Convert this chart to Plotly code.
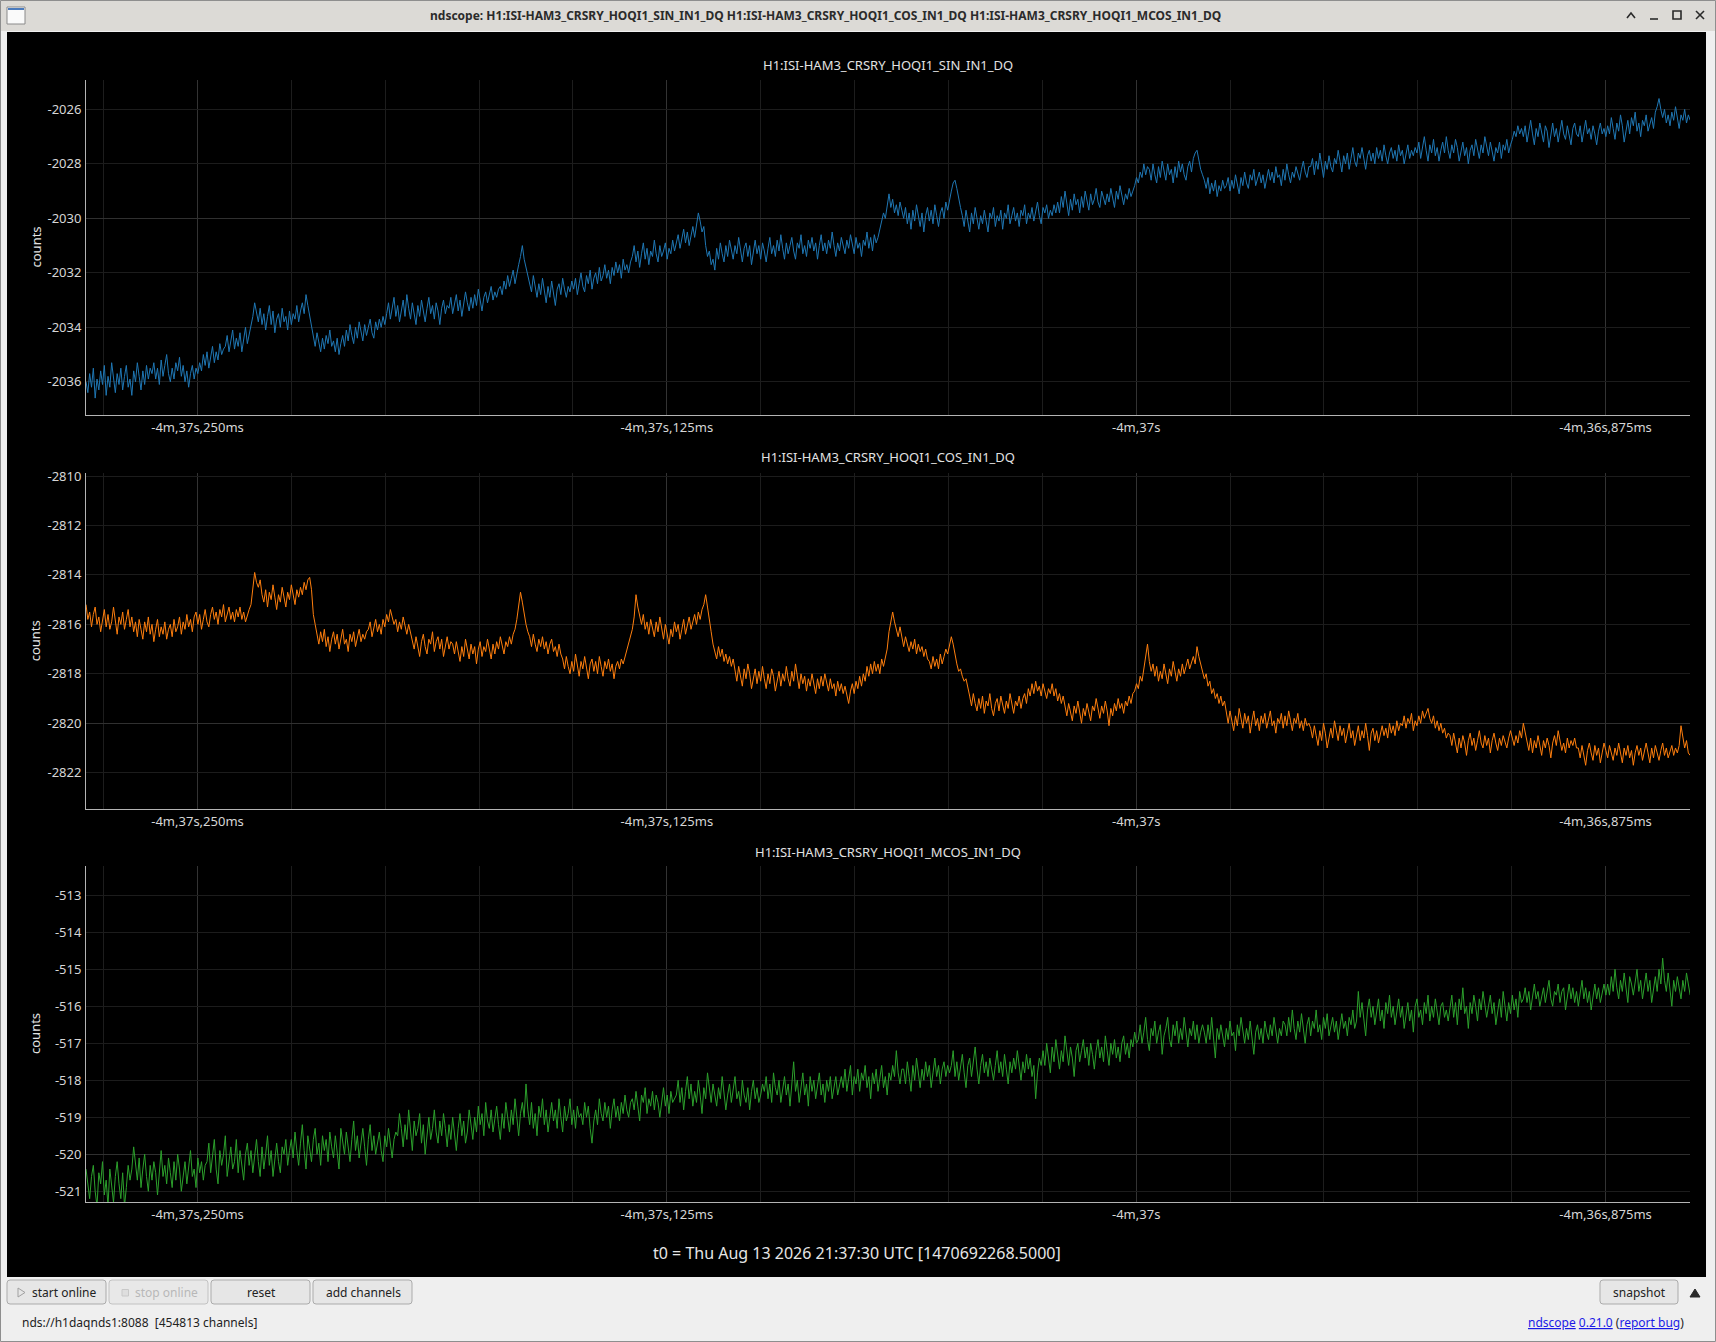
"""ndscope-style view of three HAM3 CRSRY HOQI1 channels, rebuilt with Plotly."""

import numpy as np
import plotly.graph_objects as go

W, H = 1716, 1342
FONT = "Noto Sans"

# time axis, seconds relative to t0
SAMPLE_RATE = 2048.0
T_START = -277.2797
X_RANGE = [-277.2797, -276.8525]
X_TICK_VALS = [-277.25, -277.125, -277.0, -276.875]
X_TICK_TEXT = ["-4m,37s,250ms", "-4m,37s,125ms", "-4m,37s", "-4m,36s,875ms"]

CHANNELS = [
    "H1:ISI-HAM3_CRSRY_HOQI1_SIN_IN1_DQ",
    "H1:ISI-HAM3_CRSRY_HOQI1_COS_IN1_DQ",
    "H1:ISI-HAM3_CRSRY_HOQI1_MCOS_IN1_DQ",
]
COLORS = ["#1f77b4", "#ff7f0e", "#2ca02c"]

SIN_COUNTS = [
    -2036.0, -2036.4, -2035.7, -2036.2, -2035.5, -2036.6, -2035.9, -2036.3, -2035.6, -2036.1,
    -2035.4, -2036.5, -2035.8, -2036.2, -2035.3, -2035.9, -2036.4, -2035.7, -2036.1, -2035.5,
    -2036.3, -2035.8, -2035.4, -2036.2, -2035.9, -2036.5, -2035.6, -2036.0, -2035.3, -2035.8,
    -2036.3, -2035.6, -2036.1, -2035.4, -2035.9, -2035.5,
    -2035.7, -2035.3, -2035.9, -2035.5, -2036.1, -2035.2, -2035.8, -2035.4, -2035.0, -2035.7,
    -2036.0, -2035.5, -2035.9, -2035.3, -2035.6, -2035.1, -2035.8, -2035.4, -2036.0, -2035.6,
    -2036.2, -2035.7, -2035.4, -2035.9, -2035.5, -2035.7,
    -2035.3, -2035.6, -2035.0, -2035.4, -2034.9, -2035.5, -2035.1, -2034.7, -2035.3, -2034.9,
    -2035.2, -2034.6, -2035.0, -2034.8,
    -2034.7, -2034.3, -2034.9, -2034.5, -2034.1, -2034.8, -2034.4, -2034.7, -2034.2, -2034.9,
    -2034.5, -2034.0, -2034.6, -2034.3,
    -2034.0, -2033.6, -2033.1, -2033.4,
    -2033.8, -2033.3, -2033.9, -2033.5, -2034.1, -2033.6, -2033.2, -2033.9, -2033.4, -2034.2,
    -2033.7, -2033.5, -2034.0, -2033.3, -2033.8, -2033.6, -2034.1, -2033.4, -2033.9, -2033.5,
    -2033.7, -2033.2, -2033.8, -2033.4, -2033.1, -2033.5, -2032.8, -2033.2, -2033.6, -2033.9,
    -2034.3, -2034.7, -2034.2, -2034.6, -2034.9, -2034.4, -2034.8, -2034.3, -2034.6, -2034.1,
    -2034.7, -2034.5, -2034.9, -2034.4, -2035.0, -2034.6, -2034.3, -2034.7,
    -2034.1, -2034.5, -2033.9, -2034.3, -2034.6, -2034.0, -2034.4, -2033.8, -2034.2, -2034.5,
    -2033.9, -2034.3, -2034.0, -2033.7, -2034.2, -2034.4, -2033.8, -2034.1, -2033.7, -2034.0,
    -2033.6, -2033.9,
    -2033.5, -2033.1, -2033.7, -2033.3, -2032.9, -2033.6, -2033.2, -2033.8, -2033.4, -2033.0,
    -2033.6, -2032.8, -2033.3, -2033.7, -2033.1, -2033.5, -2033.9, -2033.2, -2033.6, -2033.0,
    -2033.4, -2033.8, -2033.3, -2032.9, -2033.5, -2033.2, -2033.7, -2033.1, -2033.4, -2033.9,
    -2033.3, -2033.0, -2033.5, -2033.2,
    -2033.3, -2032.9, -2033.5, -2033.1, -2032.8, -2033.4, -2033.0, -2033.6, -2033.2, -2032.7,
    -2033.1, -2033.4, -2032.9, -2033.3, -2032.8, -2033.2, -2032.6, -2033.0, -2033.4, -2032.9,
    -2032.7, -2033.1, -2032.8, -2032.5, -2033.0, -2032.7, -2032.9, -2032.6,
    -2032.5, -2032.8, -2032.3, -2032.6, -2032.1, -2032.5, -2032.2, -2031.9, -2032.4, -2032.0,
    -2031.7, -2031.4, -2031.0, -2031.5, -2031.8, -2032.1,
    -2032.3, -2032.7, -2032.1, -2032.5, -2032.9, -2032.4, -2032.8, -2032.2, -2032.6, -2033.1,
    -2032.5, -2032.9, -2032.3, -2032.7, -2033.2, -2032.6, -2032.4, -2032.8, -2032.2, -2032.6,
    -2032.9, -2032.5, -2032.7, -2032.3,
    -2032.6, -2032.2, -2032.8, -2032.4, -2032.0, -2032.5, -2032.7, -2032.1, -2032.4, -2031.9,
    -2032.6, -2032.2, -2032.0, -2032.4, -2031.8, -2032.3, -2032.1, -2031.7, -2032.2, -2031.9,
    -2032.4, -2031.8, -2032.1, -2031.6, -2032.0, -2031.7, -2032.2, -2031.5, -2031.9, -2031.7,
    -2032.0, -2031.6,
    -2031.4, -2031.0, -2031.6, -2031.2, -2031.8, -2031.3, -2030.9, -2031.5, -2031.1, -2031.7,
    -2031.2, -2031.4, -2030.8, -2031.3, -2031.6, -2031.0, -2031.4, -2031.2, -2030.9, -2031.5,
    -2031.1, -2031.3, -2030.8, -2031.2,
    -2030.9, -2030.6, -2031.1, -2030.7, -2030.4, -2030.9, -2030.5, -2031.0, -2030.6, -2030.3,
    -2030.7, -2030.2, -2029.8, -2030.1, -2030.5, -2030.3,
    -2031.0, -2031.4, -2031.2, -2031.7, -2031.5, -2031.9,
    -2031.1, -2031.5, -2030.9, -2031.3, -2031.6, -2031.0, -2031.4, -2030.8, -2031.2, -2031.5,
    -2031.0, -2031.3, -2030.7, -2031.2, -2031.6, -2031.1, -2030.9, -2031.4, -2031.0, -2031.7,
    -2031.2, -2030.8, -2031.3, -2031.0, -2031.5, -2030.9, -2031.2, -2031.6, -2031.1, -2030.7,
    -2031.3, -2031.0, -2031.4, -2030.8, -2031.2, -2030.6, -2031.1, -2031.5, -2030.9, -2031.3,
    -2031.0, -2030.7, -2031.2, -2031.5, -2030.9, -2031.1, -2030.6, -2031.3, -2031.0, -2031.4,
    -2030.8, -2031.1, -2030.7, -2031.2, -2030.9, -2031.5, -2031.0, -2030.6, -2031.2, -2030.9,
    -2031.3, -2030.8, -2031.1, -2030.5, -2031.0, -2031.4, -2030.9, -2031.2, -2030.7, -2031.0,
    -2031.3, -2030.8, -2031.1, -2030.6, -2031.0, -2031.3, -2030.7, -2031.1, -2030.9, -2031.4,
    -2030.8, -2031.0, -2030.5, -2031.1, -2030.7, -2031.2, -2030.6, -2030.9,
    -2030.7, -2030.4, -2030.1, -2029.8, -2030.0, -2029.5, -2029.1, -2029.6, -2029.3, -2029.8,
    -2029.5, -2029.9, -2029.4, -2029.7,
    -2030.0, -2029.6, -2030.2, -2029.8, -2030.4, -2029.7, -2030.1, -2029.5, -2029.9, -2030.3,
    -2029.8, -2030.5, -2029.9, -2029.6, -2030.1, -2029.7, -2030.2, -2029.5, -2029.9, -2030.3,
    -2029.8, -2029.6, -2030.0, -2029.4, -2029.7, -2029.3,
    -2029.0, -2028.7, -2028.6, -2028.9, -2029.3, -2029.6,
    -2029.9, -2030.3, -2029.7, -2030.1, -2030.5, -2029.8, -2030.2, -2029.6, -2030.0, -2030.4,
    -2029.9, -2030.2, -2029.7, -2030.1, -2030.5, -2029.8, -2030.0, -2029.6, -2030.3, -2029.9,
    -2030.1, -2029.7, -2030.4, -2029.8, -2030.0, -2029.5, -2030.2, -2029.9, -2029.6, -2030.1,
    -2029.8, -2030.3, -2029.7, -2029.9, -2029.5, -2030.2, -2029.8, -2030.0, -2029.6, -2030.1,
    -2029.7, -2029.4, -2029.9, -2030.2, -2029.6, -2029.8, -2029.5, -2030.0, -2029.7, -2029.9,
    -2029.5, -2029.8,
    -2029.4, -2029.8, -2029.2, -2029.6, -2029.0, -2029.5, -2029.9, -2029.3, -2029.7, -2029.1,
    -2029.5, -2029.3, -2029.8, -2029.2, -2029.6, -2029.0, -2029.4, -2029.7, -2029.1, -2029.5,
    -2029.3, -2028.9, -2029.4, -2029.6, -2029.0, -2029.3, -2029.5, -2029.1, -2029.4, -2028.9,
    -2029.2, -2029.6, -2029.0, -2029.3, -2028.8, -2029.2, -2029.5, -2029.1, -2029.3, -2028.9,
    -2029.2, -2029.0,
    -2028.8, -2028.5, -2028.7, -2028.3, -2028.5, -2028.0, -2028.4, -2028.1,
    -2028.2, -2028.6, -2028.0, -2028.4, -2028.7, -2028.1, -2028.5, -2027.9, -2028.3, -2028.6,
    -2028.0, -2028.4, -2028.2, -2028.7, -2028.1, -2028.5, -2027.9, -2028.3, -2028.0, -2028.4,
    -2028.6, -2028.1, -2027.9, -2028.3, -2027.8, -2027.6, -2027.5, -2027.9, -2028.2, -2028.4,
    -2028.6, -2028.9, -2028.5, -2029.1, -2028.7, -2029.0, -2028.6, -2029.2, -2028.8, -2029.0,
    -2028.6, -2028.9,
    -2028.8, -2028.5, -2029.0, -2028.6, -2028.9, -2028.4, -2028.7, -2029.1, -2028.5, -2028.8,
    -2028.3, -2028.7, -2028.9, -2028.4, -2028.6, -2028.2, -2028.8, -2028.5, -2028.3, -2028.7,
    -2028.4, -2028.9, -2028.5, -2028.2, -2028.6, -2028.3, -2028.7, -2028.1, -2028.5, -2028.4,
    -2028.8, -2028.2, -2028.6, -2028.0, -2028.4, -2028.7, -2028.3, -2028.5, -2028.1, -2028.4,
    -2028.6, -2028.2, -2027.9, -2028.3, -2028.5, -2028.1,
    -2028.1, -2027.8, -2028.4, -2027.9, -2028.2, -2027.6, -2028.0, -2028.5, -2027.9, -2028.2,
    -2027.7, -2028.1, -2028.3, -2027.8, -2028.0, -2027.5, -2027.9, -2028.3, -2027.7, -2028.0,
    -2027.6, -2028.2, -2027.8, -2027.4, -2027.9, -2028.1, -2027.6, -2027.8, -2027.4, -2027.9,
    -2028.2, -2027.7, -2027.5, -2027.9, -2027.6, -2028.0, -2027.4, -2027.8, -2027.5, -2027.9,
    -2027.3, -2027.7, -2028.0, -2027.6, -2027.4, -2027.8, -2027.5, -2027.9, -2027.3, -2027.7,
    -2027.5, -2028.0, -2027.6, -2027.3, -2027.8, -2027.5, -2027.7, -2027.4,
    -2027.6, -2027.2, -2027.8, -2027.4, -2027.0, -2027.5, -2027.9, -2027.3, -2027.6, -2027.1,
    -2027.7, -2027.4, -2027.9, -2027.5, -2027.2, -2027.6, -2027.0, -2027.5, -2027.8, -2027.3,
    -2027.6, -2027.1, -2027.4, -2027.9, -2027.5, -2027.2, -2027.7, -2027.4, -2028.0, -2027.5,
    -2027.3, -2027.7, -2027.1, -2027.5, -2027.8, -2027.3, -2027.6, -2027.0, -2027.4, -2027.7,
    -2027.2, -2027.5, -2027.9, -2027.4, -2027.6, -2027.2, -2027.8, -2027.3, -2027.5, -2027.1,
    -2027.6, -2027.3,
    -2027.1, -2026.8, -2027.0, -2026.6, -2026.9, -2026.7,
    -2027.0, -2026.6, -2027.2, -2026.8, -2026.4, -2026.9, -2027.3, -2026.7, -2027.0, -2026.5,
    -2026.9, -2027.2, -2026.6, -2026.8, -2027.4, -2026.9, -2026.5, -2027.0, -2026.7, -2027.2,
    -2026.8, -2026.4, -2026.9, -2027.1, -2026.6, -2026.9, -2027.3, -2026.7, -2026.5, -2026.9,
    -2027.0, -2026.6, -2027.2, -2026.8, -2026.4, -2026.9, -2026.7, -2027.1, -2026.6, -2026.9,
    -2027.3, -2026.8, -2026.5, -2026.9, -2026.7, -2027.0,
    -2026.6, -2026.9, -2026.3, -2026.7, -2027.1, -2026.5, -2026.8, -2026.2, -2026.6, -2027.2,
    -2026.7, -2026.4, -2026.9, -2026.3, -2026.6, -2026.1, -2026.8, -2026.5, -2027.0, -2026.4,
    -2026.6, -2026.2, -2026.8, -2026.5, -2026.3, -2026.7, -2026.1, -2025.9, -2025.6, -2026.0,
    -2026.3, -2026.0, -2026.5, -2026.2, -2026.6, -2026.1, -2026.4, -2025.9, -2026.3, -2026.7,
    -2026.2, -2026.4, -2026.0, -2026.5, -2026.2, -2026.4,
]

COS_COUNTS = [
    -2815.2, -2815.8, -2815.5, -2816.1, -2815.6, -2815.3, -2816.0, -2815.7, -2816.3, -2815.8,
    -2815.4, -2816.1, -2815.6, -2816.2, -2815.9, -2815.3, -2815.8, -2816.4, -2815.7, -2816.0,
    -2815.5, -2816.2, -2815.8, -2815.4, -2816.1, -2815.7, -2816.3, -2815.9, -2816.5, -2815.8,
    -2816.2, -2816.6, -2815.9, -2816.3, -2815.7, -2816.4, -2816.0, -2816.7, -2816.2, -2815.8,
    -2816.5, -2816.1, -2816.4, -2815.9, -2816.6, -2816.2, -2816.0, -2816.5, -2815.8, -2816.3,
    -2816.1, -2815.7, -2816.4, -2815.9, -2816.2, -2815.6, -2816.1, -2815.8, -2816.3, -2815.7,
    -2815.5, -2816.0, -2815.6, -2816.2, -2815.8, -2815.4, -2815.9, -2816.1, -2815.6, -2815.3,
    -2815.8, -2815.5, -2816.0, -2815.4, -2815.7, -2815.2, -2815.9, -2815.6, -2815.3, -2815.8,
    -2815.5, -2815.9, -2815.4, -2815.7, -2815.3, -2815.8, -2815.5, -2815.9, -2815.6, -2815.4,
    -2815.2, -2814.6, -2813.9, -2814.3,
    -2814.5, -2814.2, -2814.8, -2815.1, -2814.6, -2815.3, -2814.7, -2815.0, -2814.4, -2814.9,
    -2815.4, -2814.8, -2815.1, -2814.5, -2814.9, -2815.3, -2814.7, -2815.0, -2814.4, -2814.8,
    -2815.2, -2814.6, -2814.9, -2814.5, -2814.8, -2814.3, -2814.6, -2814.2, -2814.1, -2814.6,
    -2815.6, -2816.0, -2816.4, -2816.8, -2816.3, -2816.7, -2816.2, -2816.9, -2816.5, -2817.1,
    -2816.6, -2816.3, -2816.8, -2816.4, -2817.0, -2816.5, -2816.2, -2816.8, -2816.6, -2817.1,
    -2816.4, -2816.7, -2816.3, -2816.9, -2816.5, -2816.2, -2816.7, -2816.4, -2816.6, -2816.3,
    -2816.2, -2815.9, -2816.5, -2816.1, -2815.8, -2816.3, -2816.0, -2816.4, -2815.8, -2816.1,
    -2815.6, -2815.9, -2815.4, -2815.7, -2816.0, -2815.8, -2816.3, -2815.9, -2816.2, -2815.7,
    -2816.1, -2816.4, -2816.0, -2816.3,
    -2816.6, -2817.0, -2816.5, -2816.9, -2817.3, -2816.7, -2816.4, -2816.9, -2817.2, -2816.6,
    -2816.8, -2816.3, -2817.1, -2816.7, -2816.5, -2817.0, -2816.6, -2817.3, -2816.8, -2816.5,
    -2817.0, -2816.7,
    -2816.8, -2817.2, -2816.7, -2817.1, -2817.5, -2816.9, -2817.3, -2816.6, -2817.0, -2817.4,
    -2816.8, -2817.2, -2816.9, -2817.6, -2817.0, -2816.7, -2817.3, -2816.9, -2817.1, -2816.6,
    -2817.0, -2817.4, -2816.8, -2817.2, -2816.7, -2817.0, -2816.5, -2816.9, -2817.2, -2816.7,
    -2816.9, -2816.5, -2816.8, -2816.4,
    -2816.2, -2815.8, -2815.3, -2814.7, -2815.1, -2815.6, -2816.0, -2816.3,
    -2816.5, -2816.9, -2816.4, -2816.8, -2817.1, -2816.6, -2816.9, -2816.5, -2817.0, -2816.7,
    -2817.2, -2816.8, -2816.6, -2817.1, -2816.9, -2817.3, -2816.8, -2817.2,
    -2817.4, -2817.8, -2817.3, -2817.7, -2818.0, -2817.5, -2817.9, -2817.2, -2817.6, -2818.1,
    -2817.5, -2817.8, -2817.3, -2817.7, -2818.2, -2817.6, -2817.4, -2817.9, -2817.5, -2818.0,
    -2817.3, -2817.7, -2818.1, -2817.5, -2817.8, -2817.4, -2817.9, -2817.6, -2818.2, -2817.7,
    -2817.5, -2817.8, -2817.4, -2817.6,
    -2817.3, -2817.0, -2816.8, -2816.5, -2816.2, -2815.7, -2814.8, -2815.3,
    -2815.7, -2816.0, -2815.6, -2816.2, -2815.9, -2816.4, -2815.8, -2816.2, -2816.5, -2815.9,
    -2816.3, -2815.7, -2816.1, -2816.6, -2816.0, -2816.4, -2816.8, -2816.2, -2816.5, -2815.9,
    -2816.3, -2816.0, -2816.6, -2816.2, -2815.8, -2816.4, -2816.1, -2815.7, -2816.2, -2815.9,
    -2815.6, -2816.0, -2815.5, -2815.8, -2815.4, -2815.2,
    -2814.8, -2815.3, -2815.9, -2816.3, -2816.8, -2817.1, -2817.4, -2816.9, -2817.3, -2817.0,
    -2817.5, -2817.2, -2817.6, -2817.3, -2817.7, -2817.4,
    -2817.9, -2818.3, -2817.7, -2818.1, -2818.5, -2817.8, -2818.2, -2817.6, -2818.0, -2818.6,
    -2818.1, -2817.8, -2818.4, -2817.9, -2818.3, -2817.7, -2818.2, -2818.6, -2818.0, -2818.4,
    -2817.8, -2818.1, -2818.7, -2818.2, -2817.9, -2818.5, -2818.0, -2818.3, -2817.7, -2818.2,
    -2818.5, -2817.9, -2818.3, -2817.6, -2818.1, -2818.6, -2818.0, -2818.4, -2818.1, -2818.7,
    -2818.2, -2818.5, -2818.0, -2818.4, -2818.8, -2818.2, -2818.6, -2818.1, -2818.5, -2818.0,
    -2818.3, -2818.7, -2818.2, -2818.6, -2818.4, -2818.9, -2818.3, -2818.7, -2818.4, -2818.8,
    -2818.5, -2818.9, -2819.2, -2818.7, -2818.4, -2818.8, -2818.3, -2818.6, -2818.1, -2818.5,
    -2818.0, -2818.3,
    -2817.7, -2818.1, -2817.6, -2818.0, -2817.5, -2817.9, -2817.6, -2818.0, -2817.4, -2817.7,
    -2817.3, -2817.0,
    -2816.3, -2815.8, -2815.5, -2815.9,
    -2816.2, -2816.5, -2816.1, -2816.6, -2816.9, -2816.5, -2816.8, -2817.1, -2816.7, -2817.0,
    -2816.6, -2817.2, -2816.8, -2817.1, -2816.9, -2817.3, -2817.0, -2817.4,
    -2817.5, -2817.8, -2817.3, -2817.7, -2817.4, -2817.8, -2817.2, -2817.6, -2817.3, -2817.0,
    -2817.2, -2816.9, -2816.5, -2816.8,
    -2817.3, -2817.6, -2817.9, -2817.8, -2818.1, -2818.3, -2818.2, -2818.5,
    -2818.9, -2819.3, -2818.8, -2819.2, -2819.5, -2819.0, -2819.4, -2818.9, -2819.6, -2819.1,
    -2819.3, -2818.8, -2819.4, -2819.7, -2819.2, -2819.0, -2819.5, -2818.9, -2819.3, -2819.6,
    -2819.1, -2819.4, -2818.8, -2819.2, -2819.6, -2819.1, -2819.3, -2818.9, -2819.4, -2819.0,
    -2818.8, -2819.2,
    -2818.6, -2818.9, -2818.4, -2818.8, -2818.3, -2818.7, -2818.5, -2818.9, -2818.4, -2818.7,
    -2819.0, -2818.6, -2818.8, -2818.4, -2818.9, -2818.6, -2819.1, -2818.8, -2819.2, -2818.9,
    -2819.3, -2819.7, -2819.2, -2819.5, -2819.9, -2819.3, -2819.6, -2819.1, -2819.5, -2820.0,
    -2819.4, -2819.7, -2819.2, -2819.6, -2819.9, -2819.3, -2819.5, -2819.0, -2819.4, -2819.8,
    -2819.3, -2819.6, -2819.1, -2819.5, -2820.1, -2819.4, -2819.7, -2819.2, -2819.5, -2819.0,
    -2819.4, -2819.2, -2819.6, -2819.1, -2819.3, -2818.9, -2819.2, -2818.8,
    -2818.7, -2818.4, -2818.6, -2818.1, -2818.3, -2817.8, -2817.4, -2816.8,
    -2817.5, -2817.9, -2817.6, -2818.1, -2817.7, -2818.3, -2817.9, -2818.2, -2817.6, -2818.0,
    -2818.4, -2817.8, -2818.1, -2817.5, -2817.9, -2818.3, -2817.8, -2818.1, -2817.6, -2818.0,
    -2817.7, -2817.4, -2817.8, -2817.5, -2817.3, -2817.6, -2816.9, -2817.3,
    -2817.6, -2817.9, -2818.2, -2818.0, -2818.5, -2818.3, -2818.8, -2818.6, -2819.0, -2818.8,
    -2819.2, -2818.9, -2819.3, -2819.1,
    -2819.6, -2820.0, -2819.5, -2819.9, -2820.3, -2819.7, -2820.1, -2819.4, -2819.8, -2820.2,
    -2819.6, -2820.0, -2819.7, -2820.4, -2819.9, -2819.5, -2820.1, -2819.8, -2820.3, -2819.7,
    -2820.0, -2819.6, -2820.2, -2819.8, -2819.5, -2820.1, -2819.9, -2820.4, -2819.8, -2820.0,
    -2819.6, -2820.2, -2819.7, -2820.1, -2819.5, -2819.9, -2820.3, -2819.8, -2820.0, -2819.6,
    -2820.2, -2819.9, -2820.3, -2819.8, -2820.1, -2820.0,
    -2820.2, -2820.6, -2820.1, -2820.5, -2820.9, -2820.3, -2820.7, -2820.0, -2820.4, -2821.0,
    -2820.5, -2820.2, -2820.6, -2819.9, -2820.3, -2820.7, -2820.1, -2820.5, -2820.2, -2820.8,
    -2820.4, -2820.0, -2820.6, -2820.3, -2820.9, -2820.4, -2820.1, -2820.7, -2820.3, -2820.6,
    -2820.0, -2820.5, -2821.1, -2820.4, -2820.2, -2820.7, -2820.3, -2820.8, -2820.4, -2820.1,
    -2820.5, -2820.2, -2820.6, -2820.0, -2820.4, -2820.1, -2820.5, -2819.9, -2820.3, -2820.0,
    -2820.1, -2819.7, -2820.2, -2819.8, -2820.0, -2819.6, -2820.3, -2819.9, -2820.1, -2819.7,
    -2820.0, -2819.5, -2819.8, -2819.6, -2819.4, -2819.8, -2820.0, -2819.7, -2820.2, -2819.9,
    -2820.3, -2820.0, -2820.4, -2820.2, -2820.6, -2820.4,
    -2820.5, -2820.9, -2820.4, -2820.8, -2821.2, -2820.6, -2821.0, -2820.5, -2820.8, -2821.3,
    -2820.7, -2820.4, -2820.9, -2820.6, -2821.1, -2820.7, -2820.3, -2820.8, -2821.0, -2820.5,
    -2820.9, -2820.6, -2821.2, -2820.7, -2820.4, -2820.8, -2821.1, -2820.6, -2820.9, -2820.5,
    -2820.8, -2821.0, -2820.6, -2820.3,
    -2820.6, -2820.9, -2820.5, -2820.8, -2820.3, -2820.6, -2820.0, -2820.4, -2820.8, -2821.1,
    -2820.6, -2821.2, -2820.7, -2821.0, -2820.5, -2820.9, -2821.3, -2820.7, -2821.0, -2820.6,
    -2820.9, -2821.4, -2820.8, -2820.5, -2820.9, -2820.3, -2820.7, -2821.1, -2820.8, -2821.2,
    -2820.6, -2821.0, -2820.7, -2820.9, -2820.6, -2821.0,
    -2821.0, -2821.4, -2820.9, -2821.3, -2821.7, -2821.1, -2820.8, -2821.2, -2821.5, -2820.9,
    -2821.3, -2821.0, -2821.6, -2821.2, -2820.8, -2821.1, -2821.4, -2820.9, -2821.2, -2821.5,
    -2821.0, -2821.3, -2820.8, -2821.2, -2821.6, -2821.0, -2821.3, -2820.9, -2821.4, -2821.1,
    -2821.7, -2821.2, -2820.9, -2821.3, -2821.0, -2821.5, -2821.1, -2820.8, -2821.2, -2821.6,
    -2821.0, -2821.4, -2820.9, -2821.2, -2821.5, -2821.1, -2820.8, -2821.3, -2821.0, -2821.4,
    -2821.1, -2820.9, -2821.3, -2821.0, -2821.2, -2820.9,
    -2820.1, -2820.6, -2821.0, -2820.7, -2821.2, -2821.3,
]

MCOS_COUNTS = [
    -520.4, -520.9, -521.2, -520.6, -520.3, -521.0, -521.4, -520.5, -520.8, -520.2,
    -521.1, -520.7, -521.4, -520.4, -520.9, -521.3, -520.6, -520.2, -520.8, -521.2,
    -520.5, -521.4, -520.9, -520.3, -520.7, -520.4,
    -519.8, -520.3, -520.7, -520.1, -520.9, -520.4, -520.0, -520.6, -521.0, -520.3,
    -520.7, -520.2, -520.5, -521.1, -520.4, -519.9, -520.6, -520.3, -520.8, -520.1,
    -520.5, -520.9, -520.2, -520.7, -520.0, -520.4, -521.0, -520.5, -520.2, -520.8,
    -520.3, -519.9, -520.6, -520.4, -520.9, -520.1, -520.5, -520.2, -520.7, -520.3,
    -520.2, -519.7, -520.5, -520.0, -519.6, -520.4, -520.8, -519.9, -520.3, -520.0,
    -519.5, -520.6, -520.1, -519.8, -520.4, -520.2, -519.6, -520.5, -519.9, -520.3,
    -520.7, -520.0, -519.7, -520.3, -519.9, -520.5, -520.1, -519.6, -520.2, -520.6,
    -519.8, -520.4, -520.0, -519.5, -520.3, -519.9, -520.6, -520.1, -519.7, -520.2,
    -520.5, -519.8, -520.0, -519.6, -520.3, -519.9,
    -519.6, -520.1, -519.4, -519.9, -520.3, -519.7, -519.2, -519.9, -520.4, -519.5,
    -519.8, -520.2, -519.6, -519.3, -520.0, -519.7, -520.3, -519.5, -519.9, -519.6,
    -520.2, -519.4, -519.8, -520.1, -519.5, -519.9, -520.4, -519.3, -519.7, -520.0,
    -519.4, -519.8, -520.2, -519.6, -519.1, -519.9, -519.5, -520.1, -519.7, -519.3,
    -519.8, -520.3, -519.6, -519.2, -519.9, -519.5, -520.0, -519.7, -519.4, -519.9,
    -520.2, -519.5, -519.8, -519.3, -519.7, -520.1, -519.6, -519.4,
    -519.5, -518.9, -519.3, -519.8, -519.2, -519.6, -518.8, -519.4, -519.9, -519.1,
    -519.5, -519.3, -518.9, -519.7, -519.2, -520.0, -519.4, -519.0, -519.6, -519.3,
    -518.8, -519.4, -519.7, -519.1, -519.5, -518.9, -519.3, -519.8, -519.2, -519.6,
    -519.0, -519.4, -519.9, -519.3, -518.9, -519.5, -519.1, -519.7, -519.4, -518.8,
    -519.3, -519.6,
    -519.0, -519.4, -518.7, -519.2, -518.9, -519.5, -518.6, -519.1, -519.3, -518.8,
    -519.4, -519.0, -518.7, -519.2, -519.6, -518.9, -519.3, -518.6, -519.0, -519.4,
    -518.8, -519.2, -518.5, -519.1, -519.5, -518.9, -518.6, -519.0, -518.1, -518.8,
    -519.2, -518.6, -519.3, -518.9, -519.5, -518.7, -519.0, -518.5, -519.2, -518.8,
    -519.4, -519.0, -518.6, -519.1, -518.8, -519.3, -518.5, -519.0, -519.4, -518.7,
    -519.1, -518.9, -518.5, -519.2, -518.8, -519.3, -518.7, -519.0,
    -518.9, -519.2, -518.6, -519.0, -518.7, -519.3, -519.7, -519.1, -518.8, -519.2,
    -518.5, -518.9, -519.1, -518.6, -519.0, -518.7, -519.3, -518.8, -518.5, -519.0,
    -518.7, -519.1, -518.6, -518.9, -518.4, -518.8, -519.0, -518.6,
    -518.5, -518.8, -518.3, -518.7, -519.1, -518.4, -518.6, -518.2, -518.9, -518.5,
    -518.7, -518.3, -518.8, -518.4, -518.6, -519.0, -518.5, -518.2, -518.7, -518.4,
    -518.9, -518.3, -518.6, -518.5,
    -518.4, -518.0, -518.6, -518.2, -518.8, -518.3, -517.9, -518.5, -518.1, -518.7,
    -518.3, -518.6, -518.0, -518.4, -518.9, -518.2, -518.5, -517.8, -518.3, -518.6,
    -518.1, -518.4, -518.7, -518.2, -518.5, -517.9, -518.3, -518.8, -518.4, -518.1,
    -518.6, -518.2, -517.9, -518.5, -518.3, -518.7, -518.0, -518.4, -518.6, -518.2,
    -518.8, -518.3, -518.0, -518.5, -518.2, -518.6, -518.4, -518.1,
    -518.3, -517.9, -518.5, -518.1, -518.6, -517.8, -518.2, -518.4, -518.0, -518.6,
    -518.2, -517.9, -518.4, -518.1, -518.7, -518.0, -517.5, -518.3, -518.0, -518.6,
    -518.2, -517.8, -518.4, -518.1, -518.7, -517.9, -518.3, -518.0, -518.5, -518.2,
    -517.8, -518.4, -518.1, -518.6, -518.0, -518.3, -517.9, -518.5, -518.2, -517.9,
    -518.4, -518.1,
    -517.9, -518.2, -517.7, -518.3, -518.0, -517.6, -518.4, -517.9, -518.1, -517.7,
    -518.3, -517.8, -518.0, -517.6, -518.2, -517.9, -518.5, -517.8, -518.1, -517.7,
    -518.3, -518.0, -517.6, -518.2, -517.9, -518.4, -517.8, -518.0, -517.6, -517.9,
    -517.2, -517.8, -518.1, -517.7,
    -517.7, -518.1, -517.5, -517.9, -518.3, -517.6, -518.0, -517.4, -517.8, -518.2,
    -517.7, -518.0, -517.5, -517.9, -517.6, -518.2, -517.8, -517.4, -517.9, -517.6,
    -518.1, -517.7, -517.5, -517.9, -517.6, -517.8,
    -517.6, -517.2, -517.9, -517.5, -518.0, -517.7, -517.3, -517.8, -518.2, -517.6,
    -517.4, -517.9, -517.5, -517.1, -517.7, -518.1, -517.6, -517.3, -517.8, -517.5,
    -517.9, -517.4, -517.7, -518.0, -517.6, -517.2, -517.8, -517.5, -517.9, -517.3,
    -517.7, -518.1, -517.5, -517.8, -517.4, -517.7, -517.2, -517.6, -518.0, -517.5,
    -517.8, -517.3, -517.7, -517.4, -517.9, -517.6, -518.5, -517.8, -517.4, -517.6,
    -517.2, -517.6, -517.0, -517.4, -517.8, -517.1, -517.5, -516.9, -517.3, -517.7,
    -517.2, -517.5, -516.8, -517.3, -517.6, -517.1, -517.4, -517.9, -517.2, -517.0,
    -517.5, -517.2, -516.9, -517.4, -517.1, -517.6, -517.0, -517.3, -517.7, -517.2,
    -516.9, -517.4, -517.1, -517.5, -516.8, -517.2, -517.6, -517.0, -517.3, -516.9,
    -517.4, -517.1, -517.5, -517.0, -516.8, -517.3, -517.0, -517.4, -516.9, -517.1,
    -516.7, -517.0,
    -516.9, -516.5, -517.0, -516.7, -516.3, -516.9, -517.2, -516.6, -516.8, -516.4,
    -517.0, -516.7, -516.5, -517.3, -516.8, -516.6, -516.3, -516.9, -517.1, -516.5,
    -516.8, -516.4, -517.0, -516.6, -516.9, -516.3, -516.7, -517.1, -516.6, -516.8,
    -516.4, -516.9, -516.5, -517.0, -516.7, -516.5,
    -516.7, -517.0, -516.5, -516.9, -516.3, -516.8, -517.4, -516.6, -516.9, -516.5,
    -516.8, -517.1, -516.6, -516.9, -516.4, -516.8, -516.7, -517.2, -516.5, -516.8,
    -516.3, -516.7, -517.0, -516.6, -516.9, -516.4, -516.8, -517.3, -516.7, -516.5,
    -516.9, -516.6, -517.0, -516.4, -516.7, -516.9, -516.5, -516.8, -516.3, -516.7,
    -517.0, -516.6, -516.8, -516.4,
    -516.5, -516.8, -516.3, -516.7, -516.1, -516.6, -516.9, -516.4, -516.7, -516.2,
    -516.6, -517.0, -516.5, -516.3, -516.8, -516.4, -516.6, -516.1, -516.7, -516.5,
    -516.9, -516.3, -516.6, -516.2, -516.8, -516.5, -516.3, -516.7, -516.4, -516.9,
    -516.5, -516.2, -516.6, -516.4, -516.8, -516.3, -516.5, -516.1, -516.6, -516.4,
    -515.6, -516.3, -515.9, -516.4, -516.8, -516.1, -515.8, -516.3, -516.0, -516.5,
    -516.2, -515.8, -516.4, -516.1, -516.6, -515.9, -516.2, -515.7, -516.3, -516.0,
    -516.5, -516.1, -515.8, -516.3, -516.0, -516.6, -516.2, -515.9, -516.4, -516.1,
    -516.7, -516.0, -515.8, -516.3, -516.1, -516.5, -515.9, -516.2, -515.7, -516.4,
    -516.0, -516.3, -515.8, -516.2, -516.5, -516.0, -515.9, -516.3, -516.1, -516.4,
    -516.0, -515.7, -516.3, -515.9, -516.5, -515.8, -516.1, -515.5, -516.2, -516.0,
    -516.6, -515.9, -516.2, -515.7, -516.0, -516.4, -515.8, -516.1, -515.6, -515.9,
    -516.3, -516.0, -515.7, -516.2, -515.9, -516.5, -516.1, -515.8, -516.3, -515.6,
    -516.0, -516.4, -515.9, -516.2, -515.7, -516.1, -515.8, -516.3, -515.6, -515.9,
    -515.8, -515.5, -515.9, -515.6, -516.1, -515.7, -515.4, -515.8, -515.6, -516.0,
    -515.7, -515.5, -515.9, -515.6, -515.3, -515.8, -516.0, -515.6, -515.7, -515.4,
    -515.9, -515.6, -515.5, -516.1, -515.7, -515.4, -515.8, -515.5, -515.9, -515.6,
    -516.0, -515.7, -515.3, -515.8, -515.5, -515.9, -515.6, -516.1, -515.7, -515.4,
    -515.8, -515.5, -515.9, -515.6, -515.4, -515.7,
    -515.4, -515.7, -515.2, -515.6, -515.0, -515.5, -515.8, -515.3, -515.6, -515.1,
    -515.5, -515.9, -515.2, -515.4, -515.7, -515.3, -515.0, -515.6, -515.3, -515.8,
    -515.4, -515.1, -515.6, -515.3, -515.9, -515.5, -515.2, -515.6, -515.0, -515.4,
    -514.7, -515.3, -515.6, -515.1, -515.5, -516.0, -515.3, -515.6, -515.2, -515.5,
    -515.8, -515.3, -515.6, -515.1, -515.4, -515.7,
]

SIN_Y_TICKS = [-2036, -2034, -2032, -2030, -2028, -2026]
COS_Y_TICKS = [-2822, -2820, -2818, -2816, -2814, -2812, -2810]
MCOS_Y_TICKS = [-521, -520, -519, -518, -517, -516, -515, -514, -513]
Y_RANGES = [[-2037.22, -2024.92], [-2823.48, -2809.89], [-521.29, -512.21]]
# the decade lines pyqtgraph draws a little brighter
BRIGHT_Y_TICKS = [[-2030], [-2820], [-520]]

T0_TEXT = "t0 = Thu Aug 13 2026 21:37:30 UTC [1470692268.5000]"
WINDOW_TITLE = "ndscope: " + " ".join(CHANNELS)
STATUS_TEXT = "nds://h1daqnds1:8088&nbsp;&nbsp;[454813 channels]"

# panel geometry in window pixels: (top, bottom)
PLOT_LEFT, PLOT_RIGHT = 86, 1690
PANELS = [(80, 415), (473.3, 809.3), (866, 1202)]
TITLE_Y = [65, 457.5, 851.5]


def px(x):
    return x / W


def py(y):
    return 1 - y / H


def rect(x0, y0, x1, y1, **kw):
    return dict(type="rect", xref="paper", yref="paper", x0=px(x0), x1=px(x1),
                y0=py(y1), y1=py(y0), layer="below", **kw)


def rounded(x0, y0, x1, y1, r, **kw):
    pts = [
        f"M {px(x0 + r)},{py(y0)}", f"L {px(x1 - r)},{py(y0)}",
        f"Q {px(x1)},{py(y0)} {px(x1)},{py(y0 + r)}", f"L {px(x1)},{py(y1 - r)}",
        f"Q {px(x1)},{py(y1)} {px(x1 - r)},{py(y1)}", f"L {px(x0 + r)},{py(y1)}",
        f"Q {px(x0)},{py(y1)} {px(x0)},{py(y1 - r)}", f"L {px(x0)},{py(y0 + r)}",
        f"Q {px(x0)},{py(y0)} {px(x0 + r)},{py(y0)}", "Z",
    ]
    return dict(type="path", xref="paper", yref="paper", path=" ".join(pts), layer="below", **kw)


def polyline(points, color, width=1.5, closed=False, fill=None):
    path = "M " + " L ".join(f"{px(x)},{py(y)}" for x, y in points)
    if closed:
        path += " Z"
    shape = dict(type="path", xref="paper", yref="paper", path=path, layer="below",
                 line=dict(color=color, width=width))
    if fill:
        shape["fillcolor"] = fill
    return shape


def label(text, x, y, size=13, color="#1e1e1e", xanchor="center", **kw):
    return dict(text=text, x=px(x), y=py(y), xref="paper", yref="paper", showarrow=False,
                xanchor=xanchor, yanchor="middle", font=dict(family=FONT, size=size, color=color), **kw)


series = [SIN_COUNTS, COS_COUNTS, MCOS_COUNTS]
y_ticks = [SIN_Y_TICKS, COS_Y_TICKS, MCOS_Y_TICKS]

fig = go.Figure()
axis_font = dict(family=FONT, size=13, color="#d6d6d6")
layout_axes = {}

for k in range(3):
    n = k + 1
    sfx = "" if n == 1 else str(n)
    t = T_START + np.arange(len(series[k])) / SAMPLE_RATE
    fig.add_trace(go.Scatter(
        x=t, y=series[k], mode="lines", name=CHANNELS[k],
        line=dict(color=COLORS[k], width=1), xaxis=f"x{sfx}", yaxis=f"y{sfx}",
        showlegend=False, hoverinfo="skip",
    ))
    top, bottom = PANELS[k]
    layout_axes[f"xaxis{sfx}"] = dict(
        domain=[px(PLOT_LEFT), px(PLOT_RIGHT)], anchor=f"y{sfx}", range=X_RANGE,
        tickmode="array", tickvals=X_TICK_VALS, ticktext=X_TICK_TEXT,
        showgrid=True, gridcolor="#333333", gridwidth=1,
        minor=dict(tickmode="linear", tick0=X_TICK_VALS[0], dtick=0.025,
                   showgrid=True, gridcolor="#1d1d1d", gridwidth=1, ticks=""),
        showline=True, linecolor="#b4b4b4", linewidth=1, ticks="",
        zeroline=False, tickfont=axis_font, fixedrange=True, automargin=False,
    )
    layout_axes[f"yaxis{sfx}"] = dict(
        domain=[py(bottom), py(top)], anchor=f"x{sfx}", range=Y_RANGES[k],
        tickmode="array", tickvals=y_ticks[k], ticktext=[str(v) for v in y_ticks[k]],
        showgrid=True, gridcolor="#1c1c1c", gridwidth=1,
        showline=True, linecolor="#b4b4b4", linewidth=1, ticks="",
        zeroline=False, tickfont=axis_font, fixedrange=True, ticklabelstandoff=1,
        automargin=False,
    )
    # overlay axis carrying the brighter decade grid line
    ov = n + 3
    fig.add_trace(go.Scatter(x=[], y=[], xaxis=f"x{sfx}", yaxis=f"y{ov}",
                             showlegend=False, hoverinfo="skip"))
    layout_axes[f"yaxis{ov}"] = dict(
        overlaying=f"y{sfx}", anchor=f"x{sfx}", range=Y_RANGES[k],
        tickmode="array", tickvals=BRIGHT_Y_TICKS[k], showticklabels=False,
        showgrid=True, gridcolor="#303030", gridwidth=1, showline=False,
        zeroline=False, ticks="", fixedrange=True, automargin=False,
    )

shapes = [
    # window chrome
    rect(0, 0, W, 31, fillcolor="#dcdad6", line=dict(width=0)),
    rect(7, 32, 1706, 1277, fillcolor="#000000", line=dict(width=0)),
    rect(0.5, 0.5, W - 0.5, H - 0.5, line=dict(color="#8e8e8e", width=1)),
    # window icon
    rect(7, 7, 25, 24, fillcolor="#fafafa", line=dict(color="#8a8a8a", width=1)),
    rect(8, 8, 24, 10, fillcolor="#4b7bbd", line=dict(width=0)),
    # window controls
    polyline([(1627, 18), (1631, 13), (1635, 18)], "#2a2a2a", 1.6),
    polyline([(1650, 19), (1658, 19)], "#2a2a2a", 1.6),
    rect(1673, 11, 1681, 19, line=dict(color="#2a2a2a", width=1.6)),
    polyline([(1696, 11), (1704, 19)], "#2a2a2a", 1.6),
    polyline([(1704, 11), (1696, 19)], "#2a2a2a", 1.6),
    # buttons
    rounded(7, 1280, 106, 1304, 3, fillcolor="#e6e6e6", line=dict(color="#ababab", width=1)),
    rounded(109, 1280, 208, 1304, 3, fillcolor="#e8e8e8", line=dict(color="#c2c2c2", width=1)),
    rounded(211, 1280, 310, 1304, 3, fillcolor="#e6e6e6", line=dict(color="#ababab", width=1)),
    rounded(313, 1280, 412, 1304, 3, fillcolor="#e6e6e6", line=dict(color="#ababab", width=1)),
    rounded(1600, 1280, 1678, 1304, 3, fillcolor="#e6e6e6", line=dict(color="#ababab", width=1)),
    polyline([(18, 1288), (25, 1292.5), (18, 1297)], "#a0a0a0", 1, closed=True),
    rect(122, 1289.5, 128.5, 1296, fillcolor="#dedede", line=dict(color="#c8c8c8", width=1)),
    polyline([(1690, 1297), (1695, 1289), (1700, 1297)], "#2a2a2a", 1, closed=True, fill="#2a2a2a"),
]

annotations = [
    label(f"<b>{WINDOW_TITLE}</b>", 825, 15.5, size=12, color="#2b2b2b"),
    label(T0_TEXT, 857, 1253, size=16, color="#e6e6e6"),
    label("start online", 64, 1292, size=12, color="#222222"),
    label("stop online", 166, 1292, size=12, color="#b8b8b8"),
    label("reset", 261, 1292, size=12, color="#222222"),
    label("add channels", 363, 1292, size=12, color="#222222"),
    label("snapshot", 1639, 1292, size=12, color="#222222"),
    label(STATUS_TEXT, 20, 1322, size=12, color="#222222", xanchor="left"),
    label('<u>ndscope</u> <u>0.21.0</u> <span style="color:#1e1e1e">(</span>'
          '<u>report bug</u><span style="color:#1e1e1e">)</span>',
          1686, 1322, size=12, color="#1a1ae6", xanchor="right"),
]
for k in range(3):
    top, bottom = PANELS[k]
    annotations.append(label(CHANNELS[k], (PLOT_LEFT + PLOT_RIGHT) / 2, TITLE_Y[k], color="#e2e2e2"))
    annotations.append(label("counts", 35, (top + bottom) / 2, color="#e2e2e2", textangle=-90))

fig.update_layout(
    width=W, height=H,
    margin=dict(l=0, r=0, t=0, b=0, pad=0, autoexpand=False),
    paper_bgcolor="#efefef",
    plot_bgcolor="#000000",
    showlegend=False,
    shapes=shapes,
    annotations=annotations,
    font=dict(family=FONT),
    **layout_axes,
)

fig.write_html(
    "out.html",
    config={"displayModeBar": False},
    post_script="document.body.style.margin='0';document.body.style.overflow='hidden';",
)
